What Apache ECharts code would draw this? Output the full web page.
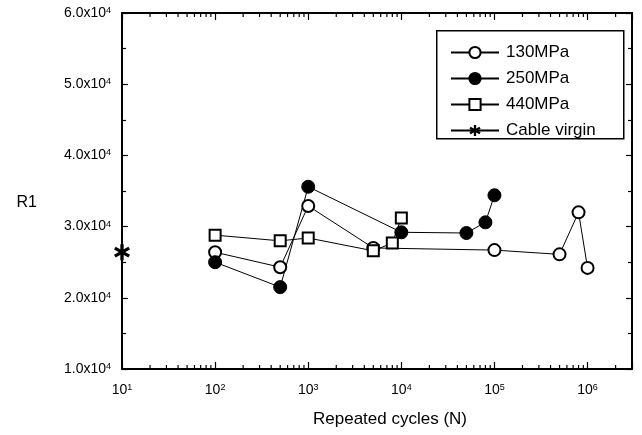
<!DOCTYPE html>
<html>
<head>
<meta charset="utf-8">
<script src="https://cdn.jsdelivr.net/npm/echarts@6/dist/echarts.min.js"></script>
<style>
html,body{margin:0;padding:0;background:#fff;}
#chart{width:642px;height:435px;}
</style>
</head>
<body>
<div id="chart"></div>
<script>
// ---- data ----
const seriesNames = ['130MPa', '250MPa', '440MPa', 'Cable virgin'];
const cycles130 = [100, 500, 1000, 5000, 100000, 500000, 800000, 1000000];
const r130 = [26400, 24300, 32900, 27000, 26700, 26100, 32000, 24200];
const cycles250 = [100, 500, 1000, 10000, 50000, 80000, 100000];
const r250 = [25000, 21500, 35600, 29200, 29100, 30600, 34400];
const cycles440 = [100, 500, 1000, 5000, 8000, 10000];
const r440 = [28800, 28000, 28400, 26600, 27700, 31200];
const cyclesVirgin = [10];
const rVirgin = [26400];
// axis ticks
const xDecades = [10, 100, 1000, 10000, 100000, 1000000];
const minorMultipliers = [2, 3, 4, 5, 6, 7, 8, 9];
const xMin = 10, xMax = 3000000;
const yMin = 10000, yMax = 60000, yStep = 10000;

const FONT = "'Liberation Sans', Arial, sans-serif";
const STAR = 'path://M8 0 L12 0 L12 20 L8 20 Z M19.66 13.27 L17.66 16.73 L0.34 6.73 L2.34 3.27 Z M17.66 3.27 L19.66 6.73 L2.34 16.73 L0.34 13.27 Z';

function pairs(xs, ys) { return xs.map((x, i) => [x, ys[i]]); }

const minorTickValues = [];
xDecades.forEach(d => minorMultipliers.forEach(m => { if (d * m <= xMax) minorTickValues.push([d * m, yMin]); }));

const chart = echarts.init(document.getElementById('chart'), null, {renderer: 'canvas'});

function minorTickRender(params, api) {
  const cs = params.coordSys;
  const p = api.coord([api.value(0), api.value(1)]);
  const bottom = cs.y + cs.height;
  return {
    type: 'group',
    children: [
      {type: 'line', shape: {x1: p[0], y1: bottom, x2: p[0], y2: bottom - 4}, style: {stroke: '#000', lineWidth: 1.2}},
      {type: 'line', shape: {x1: p[0], y1: cs.y, x2: p[0], y2: cs.y + 4}, style: {stroke: '#000', lineWidth: 1.2}}
    ]
  };
}

const supRich = {
  a: {fontSize: 14, fontFamily: FONT, color: '#000'},
  s: {fontSize: 9, fontFamily: FONT, color: '#000', verticalAlign: 'top', lineHeight: 14}
};

const option = {
  animation: false,
  backgroundColor: '#fff',
  textStyle: {fontFamily: FONT},
  grid: {left: 122, right: 10, top: 13, bottom: 66, containLabel: false},
  graphic: [{
    type: 'rect', left: 436, top: 30, z: 5,
    shape: {width: 187, height: 108},
    style: {fill: '#fff', stroke: '#000', lineWidth: 1.5}
  }],
  legend: {
    orient: 'vertical', left: 450, top: 44, padding: 0, itemGap: 9,
    itemWidth: 48, itemHeight: 14, z: 10,
    data: seriesNames,
    textStyle: {fontSize: 17, color: '#000', fontFamily: FONT, lineHeight: 16, padding: [0, 0, 0, 2]}
  },
  xAxis: [{
    type: 'log', logBase: 10, min: xMin, max: xMax,
    name: 'Repeated cycles (N)', nameLocation: 'middle', nameGap: 42,
    nameTextStyle: {fontSize: 17, color: '#000', fontFamily: FONT, padding: [0, 0, 0, 26]},
    axisLine: {show: true, lineStyle: {color: '#000', width: 2}},
    axisTick: {show: true, inside: true, length: 7, lineStyle: {color: '#000', width: 1.2}},
    splitLine: {show: false},
    axisLabel: {
      margin: 14, rich: supRich,
      formatter: function (v) {
        const e = Math.log10(v);
        if (Math.abs(e - Math.round(e)) > 1e-6) return '';
        return '{a|10}{s|' + Math.round(e) + '}';
      }
    }
  }, {
    type: 'log', logBase: 10, min: xMin, max: xMax, position: 'top',
    axisLine: {show: true, lineStyle: {color: '#000', width: 2}},
    axisTick: {show: true, inside: true, length: 7, lineStyle: {color: '#000', width: 1.2}},
    axisLabel: {show: false}, splitLine: {show: false}
  }],
  yAxis: [{
    type: 'value', min: yMin, max: yMax, interval: yStep,
    name: 'R1', nameLocation: 'middle', nameRotate: 0, nameGap: 85,
    nameTextStyle: {fontSize: 16, color: '#000', fontFamily: FONT, verticalAlign: 'top', lineHeight: 24},
    axisLine: {show: true, lineStyle: {color: '#000', width: 2}},
    axisTick: {show: true, inside: true, length: 6, lineStyle: {color: '#000', width: 1.2}},
    minorTick: {show: true, splitNumber: 2, length: 4, lineStyle: {color: '#000', width: 1.2}},
    splitLine: {show: false},
    axisLabel: {
      margin: 11, rich: supRich,
      formatter: function (v) { return '{a|' + (v / 10000).toFixed(1) + 'x10}{s|4}'; }
    }
  }, {
    type: 'value', min: yMin, max: yMax, interval: yStep, position: 'right',
    axisLine: {show: true, lineStyle: {color: '#000', width: 2}},
    axisTick: {show: true, inside: true, length: 6, lineStyle: {color: '#000', width: 1.2}},
    minorTick: {show: true, splitNumber: 2, length: 4, lineStyle: {color: '#000', width: 1.2}},
    axisLabel: {show: false}, splitLine: {show: false}
  }],
  series: [
    {
      type: 'custom', silent: true, renderItem: minorTickRender, data: minorTickValues, z: 1, clip: false
    },
    {
      name: '130MPa', type: 'line', data: pairs(cycles130, r130), clip: false,
      symbol: 'circle', symbolSize: 12,
      lineStyle: {color: '#000', width: 1},
      itemStyle: {color: '#fff', borderColor: '#000', borderWidth: 2}
    },
    {
      name: '250MPa', type: 'line', data: pairs(cycles250, r250), clip: false,
      symbol: 'circle', symbolSize: 13,
      lineStyle: {color: '#000', width: 1},
      itemStyle: {color: '#000', borderColor: '#000', borderWidth: 1}
    },
    {
      name: '440MPa', type: 'line', data: pairs(cycles440, r440), clip: false,
      symbol: 'rect', symbolSize: 11,
      lineStyle: {color: '#000', width: 1},
      itemStyle: {color: '#fff', borderColor: '#000', borderWidth: 2}
    },
    {
      name: 'Cable virgin', type: 'line', data: pairs(cyclesVirgin, rVirgin), clip: false,
      symbol: STAR, symbolSize: 16, z: 4,
      lineStyle: {color: '#000', width: 1},
      itemStyle: {color: '#000'}
    }
  ]
};
chart.setOption(option);
</script>
</body>
</html>
